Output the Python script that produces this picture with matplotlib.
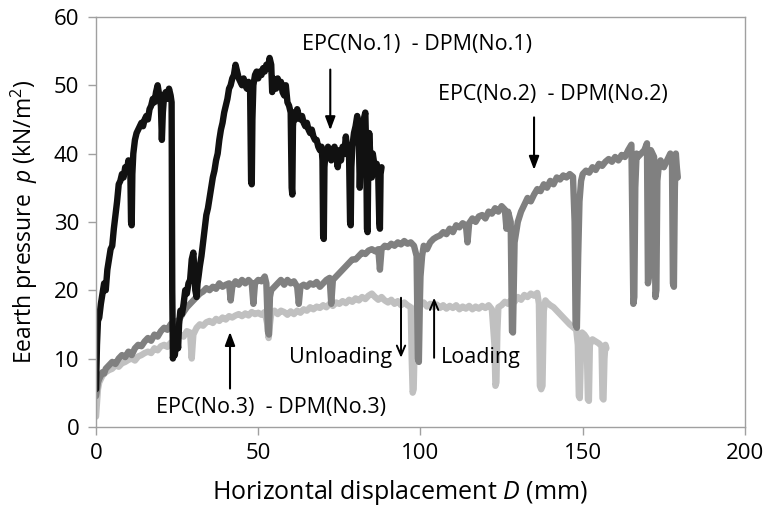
import matplotlib
matplotlib.use("Agg")
import matplotlib.pyplot as plt

plt.rcParams["font.family"] = ["Open Sans", "DejaVu Sans"]
plt.rcParams["mathtext.fontset"] = "custom"
plt.rcParams["mathtext.rm"] = "Open Sans"
plt.rcParams["mathtext.it"] = "Open Sans:italic"

# EPC(No.1) - DPM(No.1), black trace
d1 = [0, 0.3, 0.6, 1, 1.5, 2, 2.5, 3, 3.5, 4, 4.5, 5, 5.5, 6, 6.5, 7, 7.5, 8, 8.5, 9,
      9.5, 10, 10.3, 10.6, 10.8, 11, 11.2, 11.5, 12, 12.5, 13, 13.5, 14, 14.5, 15, 15.5,
      16, 16.5, 17, 17.5, 18, 18.5, 19, 19.5, 20, 20.3, 20.6, 21, 21.5, 22, 22.5, 23,
      23.3, 23.5, 23.7, 24, 24.3, 24.6, 25, 25.3, 25.6, 26, 26.5, 27, 27.5, 28, 28.5, 29,
      29.5, 30, 30.3, 30.6, 31, 31.3, 31.6, 32, 32.5, 33, 33.5, 34, 34.5, 35, 35.5, 36,
      36.5, 37, 37.5, 38, 38.5, 39, 39.5, 40, 40.5, 41, 41.5, 42, 42.5, 43, 43.5, 44,
      44.5, 45, 45.5, 46, 46.5, 47, 47.5, 47.8, 48, 48.2, 48.5, 49, 49.5, 50, 50.5, 51,
      51.5, 52, 52.5, 53, 53.5, 54, 54.3, 54.6, 55, 55.5, 56, 56.5, 57, 57.5, 58, 58.5,
      59, 59.5, 60, 60.3, 60.5, 60.7, 61, 61.5, 62, 62.5, 63, 63.5, 64, 64.5, 65, 65.5,
      66, 66.5, 67, 67.5, 68, 68.5, 69, 69.5, 69.8, 70, 70.2, 70.4, 70.7, 71, 71.5, 72,
      72.5, 73, 73.5, 74, 74.5, 75, 75.5, 76, 76.5, 77, 77.5, 78, 78.3, 78.5, 78.7, 79,
      79.5, 80, 80.5, 81, 81.3, 81.6, 82, 82.5, 83, 83.3, 83.5, 83.7, 83.9, 84.2, 84.5,
      85, 85.3, 85.6, 86, 86.5, 87, 87.3, 87.5, 87.7, 88]
p1 = [5.5, 12, 15.5, 16, 18, 19.5, 21, 20, 23, 24.5, 26, 26.5, 29, 31, 33, 35.5, 36, 37,
      36.5, 38, 37.5, 39, 38, 37, 30, 29.5, 37, 40, 42, 43, 43.5, 44, 44.5, 44, 45, 45.5,
      45, 46.5, 47, 48, 47.5, 49, 50, 48.5, 47, 42, 46, 48.5, 49, 48, 49.5, 48.5,
      47.5, 20, 10, 11, 10.5, 12, 13, 11.5, 15, 17, 16.5, 18, 20, 19.5, 21, 21.5,
      24.5, 25.5, 23, 20, 19, 21, 22, 23.5, 25, 27, 29, 31, 32, 33.5, 35, 36.5,
      37.5, 39, 40, 42, 43.5, 44.5, 46, 47, 48, 49.5, 50, 51, 51.5, 53, 52, 51,
      50.5, 50, 51, 50, 49.5, 50.5, 49, 36, 35.5, 45, 50, 51.5, 52, 51, 52, 51.5,
      52.5, 52, 53, 52.5, 54, 53, 49, 51, 50.5, 49.5, 51, 50, 50.5, 49, 48.5, 50,
      47.5, 47, 46, 35, 34, 44, 46, 45, 46.5, 45.5, 45, 45.5, 44.5, 44, 44.5, 43.5,
      43, 43.5, 42.5, 42, 42, 41, 40.5, 41, 39, 28, 27.5, 38, 40, 39.5, 41, 40,
      39, 40.5, 41, 40, 38, 40.5, 39, 41, 40, 42.5, 40, 39.5, 30, 29.5, 38, 41,
      43, 44, 45.5, 42, 35, 40, 44.5, 45, 46, 40, 29, 28.5, 38, 43, 40,
      36.5, 40, 39, 37.5, 38.5, 36.5, 30, 29, 37, 38]

# EPC(No.2) - DPM(No.2), mid-grey trace
d2 = [0, 0.3, 0.6, 1, 1.5, 2, 2.5, 3, 4, 5, 6, 7, 8, 9, 10, 11, 12, 13, 14, 15, 16, 17,
      18, 19, 20, 21, 22, 23, 24, 25, 26, 27, 28, 29, 30, 31, 32, 33, 34, 35, 36, 37, 38,
      39, 40, 41, 41.5, 42, 43, 44, 45, 46, 47, 48, 48.5, 49, 50, 51, 52, 52.5, 53, 53.3,
      53.6, 54, 55, 56, 57, 58, 59, 60, 61, 62, 62.5, 63, 64, 65, 66, 67, 68, 69, 70, 71,
      72, 72.5, 73, 74, 75, 76, 77, 78, 79, 80, 81, 82, 83, 84, 85, 86, 87, 87.5, 88, 89,
      90, 91, 92, 93, 94, 95, 96, 97, 98, 98.8, 99.2, 99.5, 99.8, 100, 100.5, 101, 102,
      103, 104, 105, 106, 107, 108, 109, 110, 111, 112, 113, 114, 114.5, 115, 116, 117,
      118, 119, 120, 121, 122, 123, 124, 125, 126, 126.5, 127, 127.8, 128.2, 128.5,
      128.8, 129, 130, 131, 132, 133, 134, 135, 136, 137, 138, 139, 140, 141, 142, 143,
      144, 145, 146, 147, 147.5, 147.8, 148.2, 148.6, 149, 149.5, 150, 151, 152, 153,
      154, 155, 156, 157, 158, 159, 160, 161, 162, 163, 164, 165, 165.3, 165.6, 165.9,
      166.2, 166.6, 167, 168, 169, 169.8, 170.1, 170.4, 170.7, 171, 171.5, 172, 172.4,
      172.7, 173, 173.5, 174, 175, 176, 177, 177.5, 177.8, 178.1, 178.4, 178.7, 179,
      179.3]
p2 = [4.5, 5.5, 6.5, 7, 7.5, 8, 7.8, 8.5, 9, 9.5, 9.2, 10, 10.5, 10.2, 11, 10.5, 11.5, 12,
      11.8, 12.5, 13, 12.6, 13.5, 13.2, 14, 14.5, 14.2, 15, 15.5, 15.2, 16, 16.8, 17.5, 18,
      18.5, 19, 19.5, 19.8, 20.3, 20, 20.5, 20.2, 21, 20.5, 20.8, 21, 18.5, 20.5, 21.3,
      20.8, 21.5, 21, 21.5, 21, 18, 21, 21.5, 21.3, 22, 21, 14, 13.5, 19, 20, 20.5, 21,
      21.5, 20.8, 21.5, 21, 21.3, 20.5, 18, 20.5, 20.8, 20.5, 21, 20.8, 21.2, 20.5, 21,
      21.5, 21.8, 18, 21.5, 22, 22.5, 23, 23.5, 24, 24.5, 24.5, 25, 25.5, 25.3, 25.8,
      26, 25.7, 26, 23, 26, 26.5, 26.3, 26.8, 26.5, 27, 26.7, 27.2, 26.8, 27, 26.5, 25,
      10, 9.5, 18, 22, 25, 26.5, 26, 27, 27.5, 27.8, 28, 28.5, 28.2, 29, 28.5, 29.5,
      29.2, 29.8, 29.5, 27, 29.8, 30.5, 30, 30.8, 31, 30.5, 31.5, 31.2, 32, 31.5, 32.3,
      31.8, 29, 31.5, 30, 14, 13.8, 22, 27, 30, 31.5, 32.5, 33.5, 33, 34, 34.8, 34.5,
      35.5, 35, 36, 35.5, 36.5, 36.2, 36.8, 36.5, 37, 36.6, 30, 15, 14.5, 25, 33, 36,
      37, 37.5, 37.2, 38, 37.6, 38.5, 38.2, 38.8, 39.2, 38.8, 39.5, 39, 39.8, 39.5,
      40.5, 41.3, 30, 18, 19, 35, 40, 39.5, 40, 40.5, 41.5, 21, 22, 38, 40.5, 40, 39.5,
      19, 20, 36, 38.5, 39, 38, 39, 40, 39.5, 21, 20.5, 35, 40, 38, 36.5]

# EPC(No.3) - DPM(No.3), light-grey trace
d3 = [0, 0.3, 0.6, 1, 1.5, 2, 3, 4, 5, 6, 7, 8, 9, 10, 11, 12, 13, 14, 15, 16, 17, 18, 19,
      20, 21, 22, 23, 24, 25, 26, 27, 28, 29, 29.5, 30, 31, 32, 33, 34, 35, 36, 37, 38,
      39, 40, 41, 42, 43, 44, 45, 46, 47, 48, 49, 50, 51, 52, 52.8, 53.2, 53.6, 54, 55,
      56, 57, 58, 59, 60, 61, 62, 63, 64, 65, 66, 67, 68, 69, 70, 71, 72, 73, 74, 75, 76,
      77, 78, 79, 80, 81, 82, 83, 84, 85, 86, 87, 88, 89, 90, 91, 92, 93, 94, 95, 96, 97,
      97.3, 97.6, 97.9, 98.2, 98.6, 99, 100, 101, 102, 103, 104, 105, 106, 107, 108, 109,
      110, 111, 112, 113, 114, 115, 116, 117, 118, 119, 120, 121, 122, 122.8, 123.1,
      123.4, 123.7, 124, 125, 126, 127, 128, 129, 130, 131, 132, 133, 134, 135, 136,
      136.5, 136.8, 137.2, 137.6, 138, 138.5, 139, 140, 141, 142, 143, 144, 145, 146,
      147, 148, 148.5, 148.8, 149.1, 149.4, 149.8, 150.5, 151.2, 151.6, 151.9, 152.2,
      153, 154, 155, 155.8, 156.1, 156.4, 156.7, 157, 157.3]
p3 = [1.5, 3.5, 5.5, 6.5, 7, 7.5, 8, 8.3, 8.5, 9, 8.8, 9.3, 9.5, 9.8, 10, 9.7, 10.3, 10.5,
      10.8, 11, 10.8, 11.5, 11.2, 11.8, 12, 11.7, 12.3, 12.5, 13, 13.5, 13.2, 14, 13.8,
      10, 13.5, 14.5, 15, 14.8, 15.3, 15.5, 15.2, 15.8, 15.5, 16, 15.7, 16.2, 16, 16.3,
      16.5, 16.2, 16.6, 16.3, 16.8, 16.5, 16.7, 16.4, 16.8, 15, 13, 15, 16.5, 17, 16.5,
      17, 16.8, 16.4, 16.9, 16.5, 17, 16.7, 17.2, 17, 17.5, 17.2, 17.6, 17.4, 17.8, 17.5,
      18, 17.7, 18.2, 18, 18.4, 18.1, 18.6, 18.3, 18.8, 18.5, 19, 18.7, 19.2, 19.5, 19,
      18.6, 19, 18.5, 18.2, 18.6, 18, 18.4, 17.8, 18.2, 17.8, 17.5, 10, 5, 5.5, 12, 17,
      18, 17.8, 18.2, 17.6, 18, 17.5, 17.9, 17.4, 17.8, 17.3, 17.7, 17.4, 17.8, 17.2,
      17.6, 17.3, 17.7, 17.2, 17.6, 17.3, 17.7, 17.4, 17.8, 17.2, 12, 6, 6.5, 14, 17.5,
      17.8, 18.3, 18, 18.6, 18.3, 19, 18.6, 19.3, 19, 19.5, 19.2, 19.6, 18, 6, 5.5, 6,
      17, 18.5, 18.2, 17.8, 17.5, 17, 16.5, 16, 15.5, 15, 14.6, 14.2, 12, 4.5, 4.2, 10,
      13.8, 13.5, 13, 4, 3.8, 12, 12.8, 12.5, 12.2, 11.8, 4.2, 4, 10, 12, 11.5]

x_ticks = [0, 50, 100, 150, 200]
y_ticks = [0, 10, 20, 30, 40, 50, 60]

fig = plt.figure(figsize=(7.68, 5.13), dpi=100)
ax = fig.add_axes([0.125, 0.168, 0.845, 0.799])

line_kw = dict(linewidth=4.6, solid_joinstyle="round", solid_capstyle="round")
ax.plot(d3, p3, color="#c0c0c0", **line_kw)
ax.plot(d2, p2, color="#808080", **line_kw)
ax.plot(d1, p1, color="#111111", **line_kw)

ax.set_xlim(0, 200)
ax.set_ylim(0, 60)
ax.set_xticks(x_ticks)
ax.set_yticks(y_ticks)
for s in ax.spines.values():
    s.set_color("#a0a0a0")
    s.set_linewidth(1.0)
ax.tick_params(direction="out", length=6, width=1.0, color="#a0a0a0",
               labelsize=16, pad=6)

ax.set_xlabel("Horizontal displacement $D$ (mm)", fontsize=18)
ax.xaxis.set_label_coords(0.468, -0.125)
ax.set_ylabel("Eearth pressure  $p$ (kN/m$^2$)", fontsize=16.5, labelpad=10)

txt = dict(fontsize=15.5, color="black")
filled = dict(arrowstyle="-|>,head_length=0.8,head_width=0.3", color="black", lw=1.5)
openhead = dict(arrowstyle="->,head_length=0.7,head_width=0.3", color="black", lw=1.4)

ax.text(63.5, 56, "EPC(No.1)  - DPM(No.1)", va="center", ha="left", **txt)
ax.annotate("", xy=(72.2, 43.0), xytext=(72.2, 52.7), arrowprops=filled)

ax.text(105.5, 48.6, "EPC(No.2)  - DPM(No.2)", va="center", ha="left", **txt)
ax.annotate("", xy=(135, 37.2), xytext=(135, 45.7), arrowprops=filled)

ax.text(18.5, 2.8, "EPC(No.3)  - DPM(No.3)", va="center", ha="left", **txt)
ax.annotate("", xy=(41.3, 14.3), xytext=(41.3, 5.2), arrowprops=filled)

ax.text(59.5, 10.1, "Unloading", va="center", ha="left", **txt)
ax.annotate("", xy=(94, 9.7), xytext=(94, 19.3), arrowprops=openhead)

ax.text(106.3, 10.1, "Loading", va="center", ha="left", **txt)
ax.annotate("", xy=(104.2, 19.3), xytext=(104.2, 9.7), arrowprops=openhead)

fig.savefig("out.png", dpi=100, facecolor="white")
